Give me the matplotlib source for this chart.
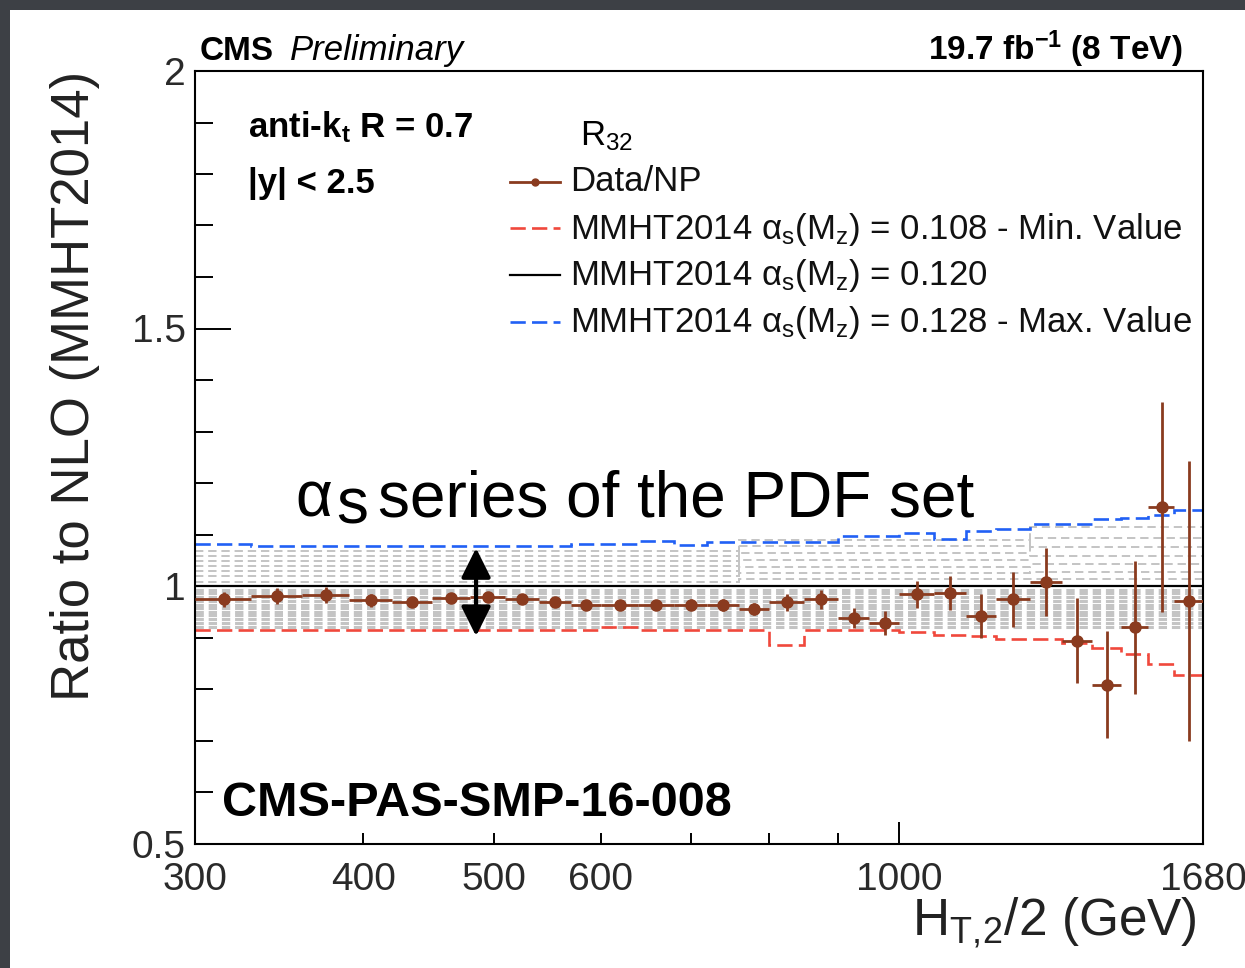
import matplotlib.pyplot as plt
from matplotlib.lines import Line2D
from matplotlib.patches import Rectangle
from matplotlib.ticker import FixedLocator, FixedFormatter, MultipleLocator

plt.rcParams["font.family"] = ["Liberation Sans", "DejaVu Sans"]
plt.rcParams["mathtext.fontset"] = "custom"
plt.rcParams["mathtext.rm"] = "Liberation Sans"
plt.rcParams["mathtext.it"] = "Liberation Sans:italic"
plt.rcParams["mathtext.bf"] = "Liberation Sans:bold"
plt.rcParams["lines.scale_dashes"] = False

# HT,2/2 binning (GeV)
bin_edges = [300, 330, 360, 390, 420, 450, 480, 510, 540, 570, 600, 640, 680,
             720, 760, 800, 850, 900, 950, 1000, 1060, 1120, 1180, 1250, 1320,
             1390, 1460, 1530, 1600, 1680]

# R32 data / NP over NLO (MMHT2014, alpha_s = 0.120)
data_ratio = [0.974, 0.981, 0.983, 0.972, 0.969, 0.976, 0.979, 0.974, 0.969,
              0.964, 0.964, 0.964, 0.964, 0.963, 0.955, 0.968, 0.974, 0.938,
              0.928, 0.984, 0.987, 0.942, 0.974, 1.008, 0.894, 0.808, 0.920,
              1.154, 0.971]
data_err = [0.015, 0.016, 0.016, 0.012, 0.008, 0.008, 0.008, 0.008, 0.008,
            0.008, 0.008, 0.009, 0.010, 0.012, 0.012, 0.017, 0.018, 0.020,
            0.024, 0.026, 0.033, 0.042, 0.053, 0.066, 0.083, 0.104, 0.129,
            0.204, 0.272]

# theory members of the alpha_s series
ratio_as0108 = [0.914, 0.914, 0.914, 0.914, 0.914, 0.914, 0.914, 0.914, 0.914,
                0.914, 0.920, 0.914, 0.914, 0.914, 0.914, 0.886, 0.914, 0.914,
                0.914, 0.910, 0.905, 0.903, 0.897, 0.897, 0.890, 0.879, 0.868,
                0.849, 0.827]
ratio_as0120 = [1.0] * 29
ratio_as0128 = [1.082, 1.078, 1.078, 1.078, 1.078, 1.078, 1.078, 1.078, 1.078,
                1.082, 1.082, 1.087, 1.079, 1.085, 1.085, 1.085, 1.085, 1.097,
                1.097, 1.102, 1.092, 1.106, 1.111, 1.120, 1.120, 1.130, 1.133,
                1.138, 1.148]
# intermediate members 0.121 ... 0.127, read in three HT ranges
gray_hi_300_760 = [1.008, 1.019, 1.029, 1.039, 1.048, 1.058, 1.068]
gray_hi_760_1250 = [1.013, 1.026, 1.037, 1.050, 1.064, 1.078, 1.090]
gray_hi_1250_1680 = [1.014, 1.028, 1.042, 1.058, 1.075, 1.093, 1.115]
# intermediate members 0.119 ... 0.109
gray_lo = [0.993, 0.986, 0.979, 0.971, 0.964, 0.957, 0.950, 0.943, 0.935,
           0.928, 0.921]

legend_labels = [
    "Data/NP",
    r"MMHT2014 α$_{\mathregular{s}}$(M$_{\mathregular{z}}$) = 0.108 - Min. Value",
    r"MMHT2014 α$_{\mathregular{s}}$(M$_{\mathregular{z}}$) = 0.120",
    r"MMHT2014 α$_{\mathregular{s}}$(M$_{\mathregular{z}}$) = 0.128 - Max. Value",
]

brown = "#8a3b1f"
red = "#f0483c"
blue = "#2160f5"
gray = "#c4c4c4"

W, H = 1245, 968


def fx(px):
    return px / W


def fy(py):
    return 1 - py / H


fig = plt.figure(figsize=(W / 100, H / 100), dpi=100)
fig.patch.set_facecolor("#3d4045")
fig.add_artist(Rectangle((fx(10), 0), 1, fy(10), transform=fig.transFigure,
                         fc="white", ec="none", zorder=-10))

ax = fig.add_axes([fx(195), fy(843.5), 1008 / W, 772.5 / H])

# gray band of the alpha_s series
n_a = bin_edges.index(760)
n_b = bin_edges.index(1250) - n_a
n_c = len(bin_edges) - 1 - n_a - n_b
for a, b, c in zip(gray_hi_300_760, gray_hi_760_1250, gray_hi_1250_1680):
    vals = [a] * n_a + [b] * n_b + [c] * n_c
    ax.stairs(vals, bin_edges, baseline=None, color=gray, lw=1.4,
              ls=(0, (6, 3.5)), zorder=1)
for v in gray_lo:
    ax.stairs([v] * (len(bin_edges) - 1), bin_edges, baseline=None, color=gray,
              lw=2.2, ls=(0, (6, 3.5)), zorder=1)

ax.stairs(ratio_as0108, bin_edges, baseline=None, color=red, lw=1.9,
          ls=(0, (11, 4.5)), zorder=2)
ax.stairs(ratio_as0128, bin_edges, baseline=None, color=blue, lw=1.9,
          ls=(0, (11, 4.5)), zorder=2)
ax.stairs(ratio_as0120, bin_edges, baseline=None, color="black", lw=1.6, zorder=2)

# data points with bin-width x errors
centers = [(lo + hi) / 2 for lo, hi in zip(bin_edges[:-1], bin_edges[1:])]
xerr = [[c - lo for c, lo in zip(centers, bin_edges[:-1])],
        [hi - c for c, hi in zip(centers, bin_edges[1:])]]
ax.errorbar(centers, data_ratio, yerr=data_err, xerr=xerr, fmt="o", color=brown,
            ms=8, elinewidth=2.0, capsize=0, zorder=4)

# axes
ax.set_xscale("log")
ax.set_xlim(300, 1680)
ax.set_ylim(0.5, 2.0)
ax.xaxis.set_major_locator(FixedLocator([1000]))
ax.xaxis.set_major_formatter(FixedFormatter(["1000"]))
ax.xaxis.set_minor_locator(FixedLocator([300, 400, 500, 600, 700, 800, 900, 1680]))
ax.xaxis.set_minor_formatter(FixedFormatter(["300", "400", "500", "600", "", "", "", "1680"]))
ax.yaxis.set_major_locator(FixedLocator([0.5, 1.0, 1.5, 2.0]))
ax.yaxis.set_major_formatter(FixedFormatter(["0.5", "1", "1.5", "2"]))
ax.yaxis.set_minor_locator(MultipleLocator(0.1))

ax.tick_params(axis="both", which="both", direction="in", width=1.4,
               top=False, right=False, labelcolor="#2a2a2a", labelsize=28)
ax.tick_params(axis="y", which="major", length=26, pad=6.5)
ax.tick_params(axis="y", which="minor", length=13)
ax.tick_params(axis="x", which="major", length=16, pad=13)
ax.tick_params(axis="x", which="minor", length=8, pad=13)
for sp in ax.spines.values():
    sp.set_linewidth(1.5)

ax.set_ylabel("Ratio to NLO (MMHT2014)", fontsize=38, color="#222222")
ax.yaxis.set_label_coords(-0.094, 0.592)
ax.set_xlabel(r"H$_{\mathregular{T,\!2}}$/2 (GeV)", fontsize=37, color="#222222",
              ha="right")
ax.xaxis.set_label_coords(0.994, -0.067)

# alpha_s arrow
ax.annotate("", xy=(485, 0.9027), xytext=(485, 1.0736),
            arrowprops=dict(arrowstyle="<|-|>", color="black", lw=3,
                            mutation_scale=45, shrinkA=0, shrinkB=0),
            zorder=6)

# header
fig.text(fx(200), fy(60), "CMS", fontsize=24, fontweight="bold", va="baseline")
fig.text(fx(290), fy(60), "Preliminary", fontsize=25, fontstyle="italic",
         va="baseline")
fig.text(fx(1182), fy(60), r"19.7 fb$^{\mathregular{-1}}$ (8 TeV)", fontsize=24,
         fontweight="bold", ha="right", va="baseline")

# selection labels
fig.text(fx(248), fy(137), r"anti-k$_{\mathregular{t}}$ R = 0.7", fontsize=25,
         fontweight="bold", va="baseline")
fig.text(fx(248), fy(193), "|y| < 2.5", fontsize=25, fontweight="bold",
         va="baseline")

# legend
fig.text(fx(580), fy(145), r"R$_{\mathregular{32}}$", fontsize=25, va="baseline")
handle_y = [181.7, 227.7, 275, 321.7]
text_y = [190.7, 239.3, 285, 331.7]
handle_styles = [
    dict(color=brown, lw=2.0, marker="o", ms=5, markevery=[1]),
    dict(color=red, lw=1.9, ls=(0, (11, 4.5))),
    dict(color="black", lw=1.6),
    dict(color=blue, lw=1.9, ls=(0, (11, 4.5))),
]
for label, hy, ty, st in zip(legend_labels, handle_y, text_y, handle_styles):
    fig.add_artist(Line2D([fx(510), fx(535), fx(560)], [fy(hy)] * 3,
                          transform=fig.transFigure, **st))
    fig.text(fx(570), fy(ty), label, fontsize=25, va="baseline", color="#111111")

# slide annotations
fig.text(fx(295), fy(516.7), "α", fontsize=46, va="baseline")
fig.text(fx(336), fy(523.5), "s", fontsize=46, va="baseline")
fig.text(fx(378), fy(516.7), "series of the PDF set", fontsize=46, va="baseline")
fig.text(fx(222), fy(816), "CMS-PAS-SMP-16-008", fontsize=35, fontweight="bold",
         va="baseline")

fig.savefig("out.png", dpi=100, facecolor=fig.get_facecolor())
